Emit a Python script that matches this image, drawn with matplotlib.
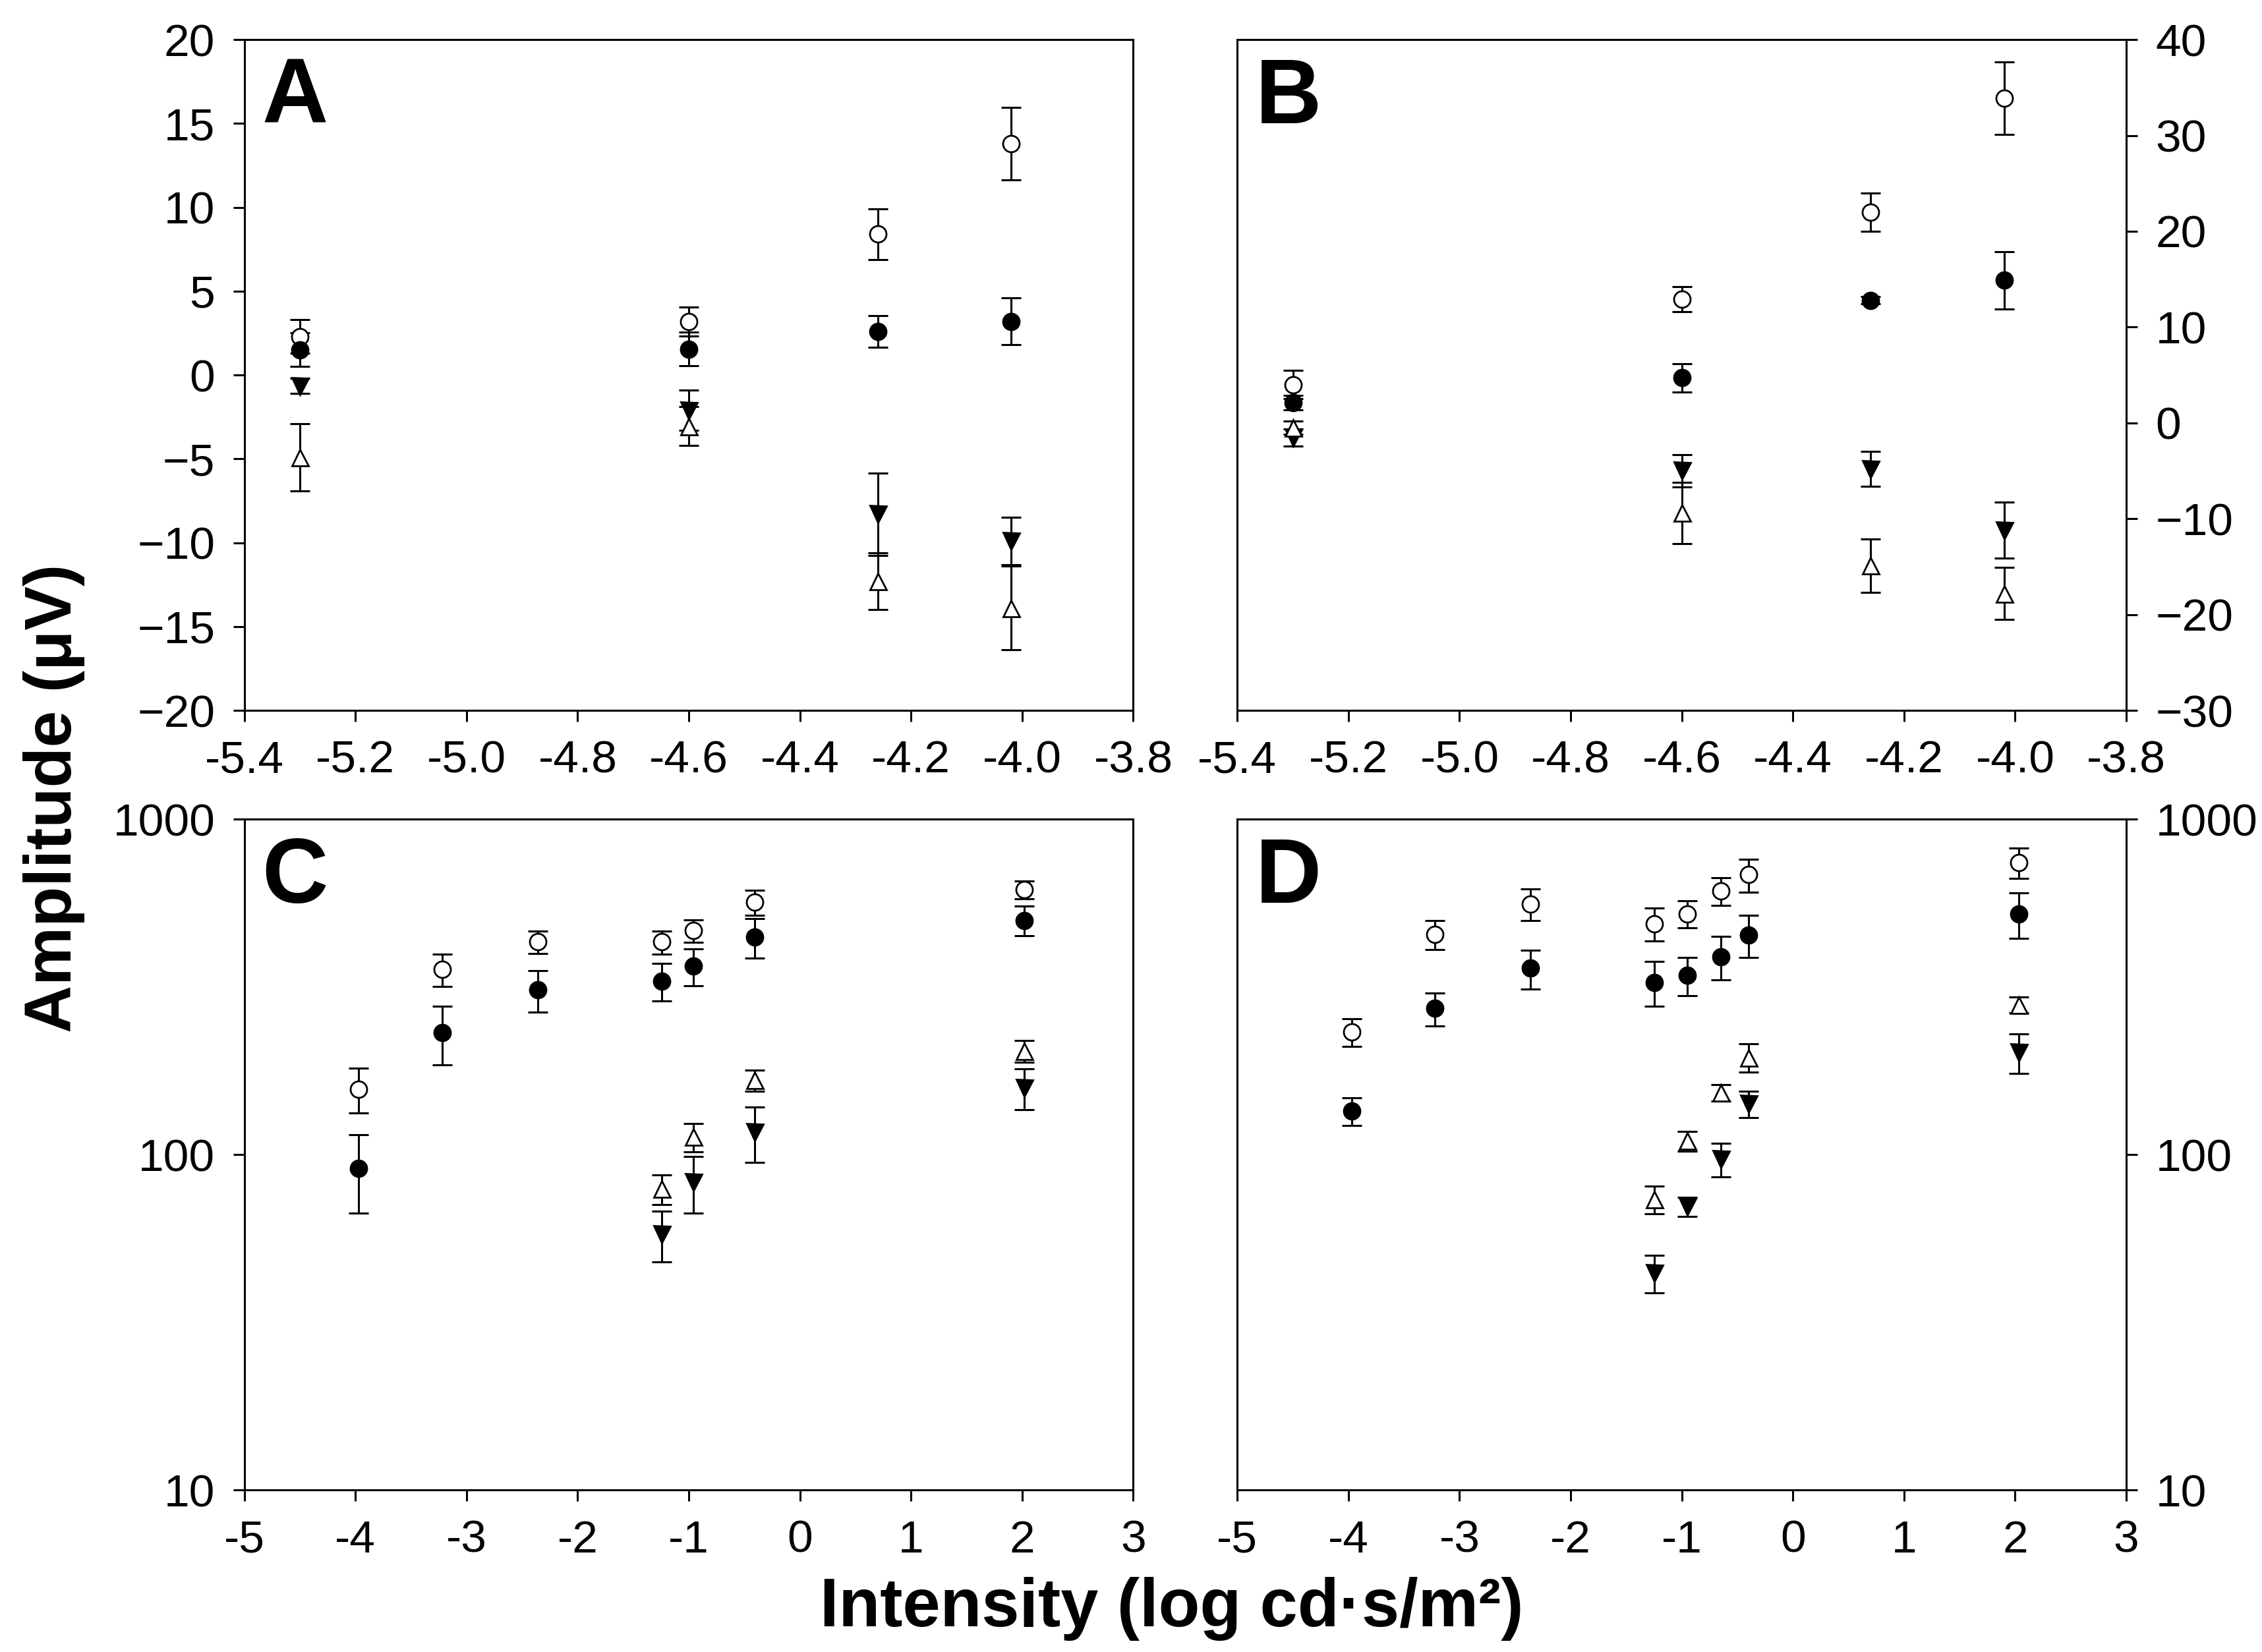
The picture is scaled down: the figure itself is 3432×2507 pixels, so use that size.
import numpy as np
import matplotlib
matplotlib.use("Agg")
import matplotlib.pyplot as plt

# ---- data ----
# panels A and B: dim intensities (log cd.s/m2)
x_ab = [-5.3, -4.6, -4.26, -4.02]

a_open_circle = [2.3, 3.2, 8.4, 13.8]
a_open_circle_err = [1.0, 0.86, 1.5, 2.17]
a_fill_circle = [1.5, 1.55, 2.6, 3.2]
a_fill_circle_err = [1.0, 1.0, 0.95, 1.4]
a_down_tri = [-0.65, -2.1, -8.3, -9.9]
a_down_tri_err = [0.45, 1.2, 2.45, 1.4]
a_up_tri = [-4.9, -3.05, -12.3, -13.9]
a_up_tri_err = [2.0, 1.15, 1.7, 2.5]

b_open_circle = [4.0, 12.9, 22.0, 33.9]
b_open_circle_err = [1.5, 1.3, 2.0, 3.8]
b_fill_circle = [2.1, 4.7, 12.8, 14.9]
b_fill_circle_err = [0.75, 1.45, 0.4, 3.0]
b_down_tri = [-1.5, -5.0, -4.8, -11.2]
b_down_tri_err = [0.9, 1.7, 1.8, 2.9]
b_up_tri = [-0.5, -9.4, -14.9, -17.8]
b_up_tri_err = [0.7, 3.2, 2.8, 2.7]

# panel C
x_c = [-3.97, -3.22, -2.36, -1.245, -0.96, -0.41, 2.02]
c_open_circle = [157, 357, 432, 431, 466, 566, 617]
c_open_circle_err = [24, 40, 33, 34, 36, 48, 38]
c_fill_circle = [91, 231, 310, 330, 365, 446, 500]
c_fill_circle_err = [24, 46, 44, 42, 46, 60, 51]
x_c_tri = [-1.245, -0.96, -0.41, 2.02]
c_up_tri = [79, 113, 167, 204]
c_up_tri_err = [8, 11, 12, 15]
c_down_tri = [58, 83, 117, 158]
c_down_tri_err = [10, 16, 22, 22]

# panel D
x_d = [-3.97, -3.22, -2.36, -1.245, -0.95, -0.65, -0.4, 2.03]
d_open_circle = [232, 454, 560, 488, 523, 612, 684, 743]
d_open_circle_err = [22, 45, 60, 55, 49, 57, 77, 77]
d_fill_circle = [135, 273, 360, 327, 343, 390, 452, 523]
d_fill_circle_err = [13, 31, 48, 50, 45, 57, 65, 82]
x_d_tri = [-1.245, -0.95, -0.65, -0.4, 2.03]
d_up_tri = [73.6, 110, 153, 195, 280]
d_up_tri_err = [7, 7.5, 8.5, 19, 15]
d_down_tri = [44.4, 70, 97, 142, 202]
d_down_tri_err = [5.7, 4.5, 11, 13, 27]

ticks_ab = np.round(np.arange(-5.4, -3.79, 0.2), 1)
ticks_cd = [-5, -4, -3, -2, -1, 0, 1, 2, 3]

font = ['Liberation Sans', 'DejaVu Sans']
plt.rcParams['font.family'] = font

# marker styles for the four series
styles = [
    dict(marker='o', mfc='white', mec='black'),
    dict(marker='o', mfc='black', mec='black'),
    dict(marker='v', mfc='black', mec='black'),
    dict(marker='^', mfc='white', mec='black'),
]


def draw_series(ax, xs, ys, errs, style):
    ax.errorbar(xs, ys, yerr=errs, fmt='none', ecolor='black', elinewidth=1.1,
                capsize=5.5, capthick=1.1, zorder=2)
    ax.plot(xs, ys, linestyle='none', markersize=9, markeredgewidth=1.0,
            zorder=3, **style)


def setup_axes(ax, letter, right=False):
    for s in ax.spines.values():
        s.set_linewidth(1.1)
    ax.tick_params(direction='out', length=6, width=1.1, labelsize=25, pad=10)
    ax.tick_params(which='minor', length=0)
    if right:
        ax.yaxis.tick_right()
        ax.yaxis.set_label_position('right')
    ax.text(0.02, 0.975, letter, transform=ax.transAxes, ha='left', va='top',
            fontsize=50, fontweight='bold')


fig = plt.figure(figsize=(17.16, 12.535), dpi=200)
w, h = 0.393, 0.406
axA = fig.add_axes([0.108, 0.570, w, h])
axB = fig.add_axes([0.547, 0.570, w, h])
axC = fig.add_axes([0.108, 0.098, w, h])
axD = fig.add_axes([0.547, 0.098, w, h])

# panel A
for ys, es, st in zip([a_open_circle, a_fill_circle, a_down_tri, a_up_tri],
                      [a_open_circle_err, a_fill_circle_err, a_down_tri_err, a_up_tri_err],
                      styles):
    draw_series(axA, x_ab, ys, es, st)
axA.set_xlim(-5.4, -3.8)
axA.set_ylim(-20, 20)
axA.set_xticks(ticks_ab)
axA.set_xticklabels([f"{t:.1f}" for t in ticks_ab])
axA.set_yticks(np.arange(-20, 21, 5))
setup_axes(axA, 'A')

# panel B
for ys, es, st in zip([b_open_circle, b_fill_circle, b_down_tri, b_up_tri],
                      [b_open_circle_err, b_fill_circle_err, b_down_tri_err, b_up_tri_err],
                      styles):
    draw_series(axB, x_ab, ys, es, st)
axB.set_xlim(-5.4, -3.8)
axB.set_ylim(-30, 40)
axB.set_xticks(ticks_ab)
axB.set_xticklabels([f"{t:.1f}" for t in ticks_ab])
axB.set_yticks(np.arange(-30, 41, 10))
setup_axes(axB, 'B', right=True)

# panel C
draw_series(axC, x_c, c_open_circle, c_open_circle_err, styles[0])
draw_series(axC, x_c, c_fill_circle, c_fill_circle_err, styles[1])
draw_series(axC, x_c_tri, c_down_tri, c_down_tri_err, styles[2])
draw_series(axC, x_c_tri, c_up_tri, c_up_tri_err, styles[3])

# panel D
draw_series(axD, x_d, d_open_circle, d_open_circle_err, styles[0])
draw_series(axD, x_d, d_fill_circle, d_fill_circle_err, styles[1])
draw_series(axD, x_d_tri, d_down_tri, d_down_tri_err, styles[2])
draw_series(axD, x_d_tri, d_up_tri, d_up_tri_err, styles[3])

for ax, letter, right in [(axC, 'C', False), (axD, 'D', True)]:
    ax.set_yscale('log')
    ax.set_xlim(-5, 3)
    ax.set_ylim(10, 1000)
    ax.set_xticks(ticks_cd)
    ax.set_xticklabels([str(t) for t in ticks_cd])
    ax.set_yticks([10, 100, 1000])
    ax.set_yticklabels(['10', '100', '1000'])
    ax.yaxis.set_minor_locator(matplotlib.ticker.NullLocator())
    setup_axes(ax, letter, right=right)

fig.text(0.024, 0.517, 'Amplitude (\u03bcV)', rotation=90, ha='center', va='center',
         fontsize=36, fontweight='bold')
fig.text(0.518, 0.026, 'Intensity (log cd\u00b7s/m\u00b2)', ha='center', va='center',
         fontsize=37, fontweight='bold')

fig.savefig('out.png', dpi=200)
